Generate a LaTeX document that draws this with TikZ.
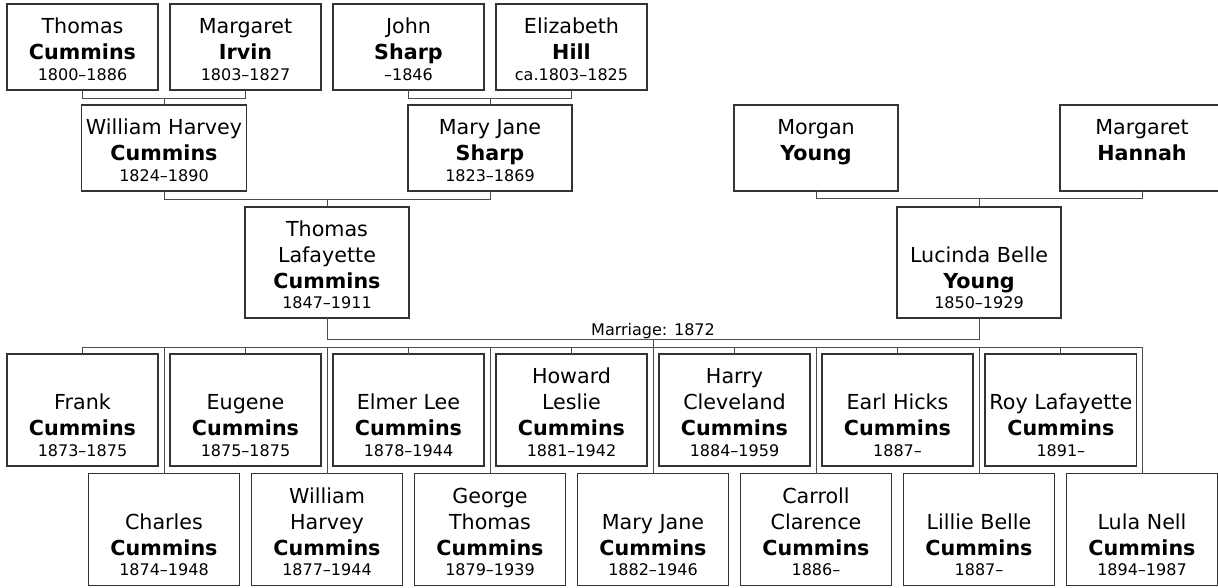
\documentclass[tikz,border=0pt]{standalone}
\usepackage{fontspec}
\setmainfont{DejaVu Sans}
\usetikzlibrary{positioning,calc}
\newcommand{\who}[3]{\rule{0pt}{15pt}#1\\\textbf{#2}\\[-4pt]{\fontsize{12}{14}\selectfont #3}}

\begin{document}
\begin{tikzpicture}[
  x=0.75pt, y=-0.75pt,
  person/.style={draw=black!80, line width=1pt, outer sep=0pt, align=center,
    font=\fontsize{15.5}{19.5}\selectfont, text depth=0pt,
    minimum width=113.25pt, minimum height=64.5pt},
  parent/.style={person, minimum width=123pt},
  couple/.style={person, minimum width=123pt, minimum height=83.25pt},
  kid/.style={person, minimum height=84pt},
  link/.style={draw=black!70, line width=0.75pt}
]
  \useasboundingbox (0,0) rectangle (1218,587);

  % grandparents
  \node[person] (thomas) at (82.5,47) {\who{Thomas}{Cummins}{1800–1886}};
  \node[person, right=9pt of thomas] (margaret) {\who{Margaret}{Irvin}{1803–1827}};
  \node[person, right=9pt of margaret] (john) {\who{John}{Sharp}{–1846}};
  \node[person, right=9pt of john] (elizabeth) {\who{Elizabeth}{Hill}{ca.1803–1825}};

  % parents
  \coordinate (p1) at ($(thomas.south)!.5!(margaret.south)$);
  \coordinate (p2) at ($(john.south)!.5!(elizabeth.south)$);
  \node[parent, below=11.25pt of p1] (william) {\who{William Harvey}{Cummins}{1824–1890}};
  \node[parent, below=11.25pt of p2] (maryjane) {\who{Mary Jane}{Sharp}{1823–1869}};
  \node[parent, right=121.5pt of maryjane] (morgan) {\who{Morgan}{Young}{}};
  \node[parent, right=121.5pt of morgan] (hannah) {\who{Margaret}{Hannah}{}};

  % the couple
  \coordinate (p3) at ($(william.south)!.5!(maryjane.south)$);
  \coordinate (p4) at ($(morgan.south)!.5!(hannah.south)$);
  \node[couple, below=12pt of p3] (thomasl) {\who{Thomas\\Lafayette}{Cummins}{1847–1911}};
  \node[couple, below=12pt of p4] (lucinda) {\who{\mbox{}\\Lucinda Belle}{Young}{1850–1929}};

  % children
  \node[kid] (frank) at (82.5,410) {\who{\mbox{}\\Frank}{Cummins}{1873–1875}};
  \node[kid, right=9pt of frank] (eugene) {\who{\mbox{}\\Eugene}{Cummins}{1875–1875}};
  \node[kid, right=9pt of eugene] (elmer) {\who{\mbox{}\\Elmer Lee}{Cummins}{1878–1944}};
  \node[kid, right=9pt of elmer] (howard) {\who{Howard\\Leslie}{Cummins}{1881–1942}};
  \node[kid, right=9pt of howard] (harry) {\who{Harry\\Cleveland}{Cummins}{1884–1959}};
  \node[kid, right=9pt of harry] (earl) {\who{\mbox{}\\Earl Hicks}{Cummins}{1887–}};
  \node[kid, right=9pt of earl] (roy) {\who{\mbox{}\\Roy Lafayette}{Cummins}{1891–}};
  \node[kid] (charles) at (164,529.5) {\who{\mbox{}\\Charles}{Cummins}{1874–1948}};
  \node[kid, right=9pt of charles] (williamh) {\who{William\\Harvey}{Cummins}{1877–1944}};
  \node[kid, right=9pt of williamh] (george) {\who{George\\Thomas}{Cummins}{1879–1939}};
  \node[kid, right=9pt of george] (maryj) {\who{\mbox{}\\Mary Jane}{Cummins}{1882–1946}};
  \node[kid, right=9pt of maryj] (carroll) {\who{Carroll\\Clarence}{Cummins}{1886–}};
  \node[kid, right=9pt of carroll] (lillie) {\who{\mbox{}\\Lillie Belle}{Cummins}{1887–}};
  \node[kid, right=9pt of lillie] (lula) {\who{\mbox{}\\Lula Nell}{Cummins}{1894–1987}};

  % family lines
  \draw[link] (thomas.south) -- ++(0,-6pt) coordinate (b1) -| (margaret.south);
  \draw[link] (william.north) -- (william.north |- b1);
  \draw[link] (john.south) -- ++(0,-6pt) coordinate (b2) -| (elizabeth.south);
  \draw[link] (maryjane.north) -- (maryjane.north |- b2);
  \draw[link] (william.south) -- ++(0,-6pt) coordinate (b3) -| (maryjane.south);
  \draw[link] (thomasl.north) -- (thomasl.north |- b3);
  \draw[link] (morgan.south) -- ++(0,-5.25pt) coordinate (b4) -| (hannah.south);
  \draw[link] (lucinda.north) -- (lucinda.north |- b4);
  \draw[link] (thomasl.south) -- ++(0,-15.75pt) coordinate (b5) -| (lucinda.south);
  \coordinate (wed) at ($(b5)!.5!(b5 -| lucinda.south)$);
  \node[anchor=base, font=\fontsize{12}{14}\selectfont] (marriage) at ($(wed)+(0,3pt)$) {Marriage: 1872};
  \draw[link] (wed) -- ++(0,-6pt) coordinate (kb);
  \draw[link] (frank.north |- kb) -- (lula.north |- kb);
  \foreach \k in {frank,eugene,elmer,howard,harry,earl,roy,
                  charles,williamh,george,maryj,carroll,lillie,lula}
    \draw[link] (\k.north) -- (\k.north |- kb);
\end{tikzpicture}
\end{document}
